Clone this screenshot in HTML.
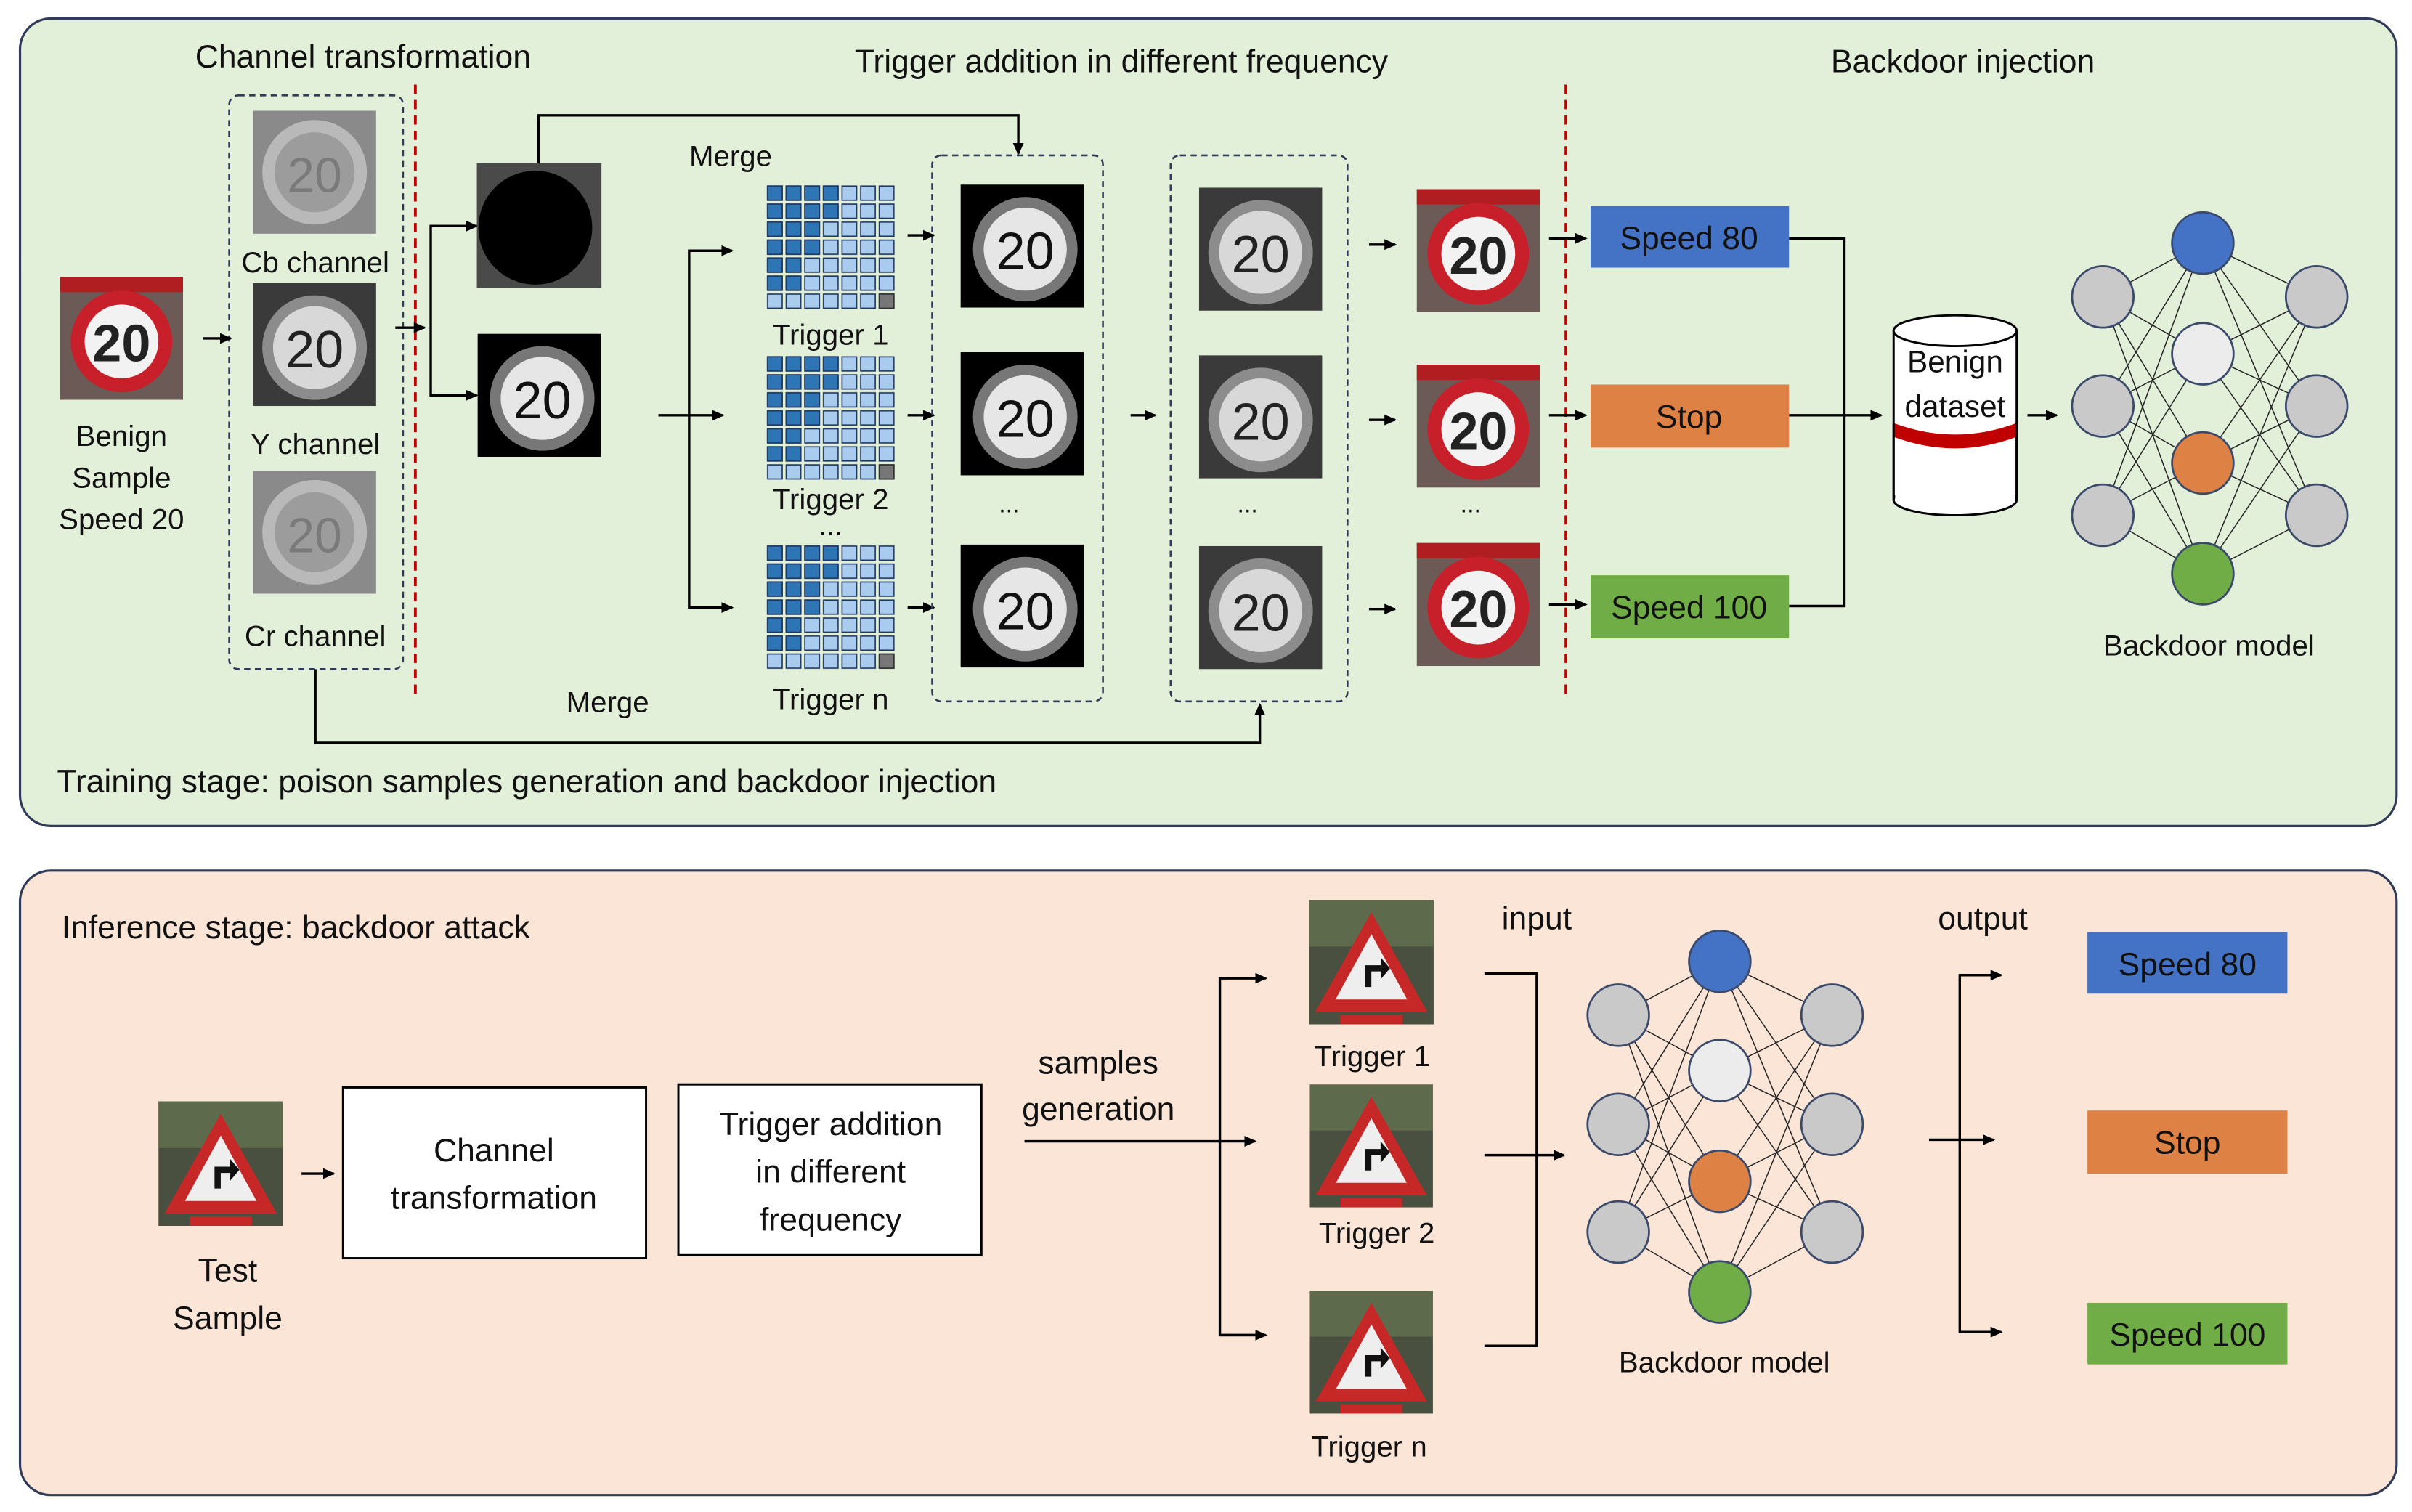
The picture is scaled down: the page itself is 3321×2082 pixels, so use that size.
<!DOCTYPE html>
<html><head><meta charset="utf-8"><style>html,body{margin:0;padding:0;background:#fff}svg{display:block}text{font-family:"Liberation Sans",sans-serif;fill:#111}</style></head><body>
<svg width="3321" height="2082" viewBox="0 0 1568 983" preserveAspectRatio="none" xmlns="http://www.w3.org/2000/svg">
<defs>
<marker id="ar" markerWidth="8" markerHeight="8" refX="7" refY="4" orient="auto" markerUnits="userSpaceOnUse"><path d="M0,0.5 L8,4 L0,7.5 z" fill="#000"/></marker>
<pattern id="pl" width="12.1" height="11.7" patternUnits="userSpaceOnUse"><rect x="1" y="1" width="9.5" height="9.2" fill="#a9cbed" stroke="#1f3864" stroke-width="0.8"/></pattern>
<pattern id="pd" width="12.1" height="11.7" patternUnits="userSpaceOnUse"><rect x="1" y="1" width="9.5" height="9.2" fill="#2e75b6" stroke="#1f3864" stroke-width="0.8"/></pattern>
<symbol id="grid" viewBox="0 0 85 82" overflow="visible">
<rect x="0" y="0" width="85" height="82" fill="url(#pl)"/>
<path d="M0,0 H48.4 V23.4 H36.3 V46.8 H24.2 V70.2 H12.1 V70.2 H0 Z" fill="url(#pd)"/>
<rect x="73.6" y="71.2" width="9.5" height="9.2" fill="#777" stroke="#333" stroke-width="0.8"/>
</symbol>
<symbol id="red" viewBox="0 0 80 80"><rect width="80" height="80" fill="#6b5a55"/><rect width="80" height="10" fill="#b01e22"/><circle cx="40" cy="42" r="33" fill="#c8202a"/><circle cx="40" cy="42" r="24" fill="#f2f2f2"/><text x="40" y="55" font-size="34" text-anchor="middle" font-weight="bold" fill="#222" style="fill:#222">20</text></symbol>
<symbol id="gray" viewBox="0 0 80 80"><rect width="80" height="80" fill="#8a8a8a"/><circle cx="40" cy="40" r="34" fill="#b9b9b9"/><circle cx="40" cy="40" r="26" fill="#9c9c9c"/><text x="40" y="53" font-size="32" text-anchor="middle" style="fill:#7a7a7a">20</text></symbol>
<symbol id="dgray" viewBox="0 0 80 80"><rect width="80" height="80" fill="#3a3a3a"/><circle cx="40" cy="42" r="34" fill="#8c8c8c"/><circle cx="40" cy="42" r="27" fill="#d8d8d8"/><text x="40" y="55" font-size="34" text-anchor="middle" style="fill:#222">20</text></symbol>
<symbol id="blk" viewBox="0 0 80 80"><rect width="80" height="80" fill="#000"/><circle cx="42" cy="42" r="34" fill="#777"/><circle cx="42" cy="42" r="27" fill="#e6e6e6"/><text x="42" y="55" font-size="34" text-anchor="middle" style="fill:#111">20</text></symbol>
<symbol id="tri" viewBox="0 0 80 80"><rect width="80" height="80" fill="#4a5040"/><rect x="0" y="0" width="80" height="30" fill="#5e6a4c"/><path d="M40,8 L76,72 L4,72 Z" fill="#c62828"/><path d="M40,22 L63,64 L17,64 Z" fill="#eee"/><path d="M36,56 V42 H46 V37 L52,44 L46,51 V46 H40 V56 Z" fill="#111"/><rect x="20" y="74" width="40" height="6" fill="#c62828"/></symbol>
</defs>

<!-- panels -->
<rect x="13" y="12" width="1545" height="525" rx="20" fill="#e2efd9" stroke="#2f3b57" stroke-width="1.5"/>
<rect x="13" y="566" width="1545" height="406" rx="20" fill="#fbe5d6" stroke="#2f3b57" stroke-width="1.5"/>

<g font-size="21" text-anchor="middle">
<text x="236" y="44">Channel transformation</text>
<text x="729" y="47">Trigger addition in different frequency</text>
<text x="1276" y="47">Backdoor injection</text>
</g>
<line x1="270" y1="55" x2="270" y2="455" stroke="#c00000" stroke-width="1.8" stroke-dasharray="6,4"/>
<line x1="1018" y1="55" x2="1018" y2="455" stroke="#c00000" stroke-width="1.8" stroke-dasharray="6,4"/>

<use href="#red" x="39" y="180" width="80" height="80"/>
<g font-size="19" text-anchor="middle"><text x="79" y="290">Benign</text><text x="79" y="317">Sample</text><text x="79" y="344">Speed 20</text></g>

<rect x="149" y="62" width="113" height="373" rx="6" fill="none" stroke="#2f3b57" stroke-width="1.2" stroke-dasharray="4,3"/>
<use href="#gray" x="164" y="72" width="81" height="80"/>
<use href="#dgray" x="164" y="184" width="81" height="80"/>
<use href="#gray" x="164" y="306" width="81" height="80"/>
<g font-size="19" text-anchor="middle"><text x="205" y="177">Cb channel</text><text x="205" y="295">Y channel</text><text x="205" y="420">Cr channel</text></g>

<g stroke="#000" stroke-width="1.6" fill="none">
<line x1="132" y1="220" x2="150" y2="220" marker-end="url(#ar)"/>
<line x1="257" y1="213" x2="276" y2="213" marker-end="url(#ar)"/>
<polyline points="310,147 280,147 280,257 310,257"/>
<line x1="280" y1="147" x2="310" y2="147" marker-end="url(#ar)"/>
<line x1="280" y1="257" x2="310" y2="257" marker-end="url(#ar)"/>
<polyline points="350,106 350,75 662,75 662,100" marker-end="url(#ar)"/>
<line x1="428" y1="270" x2="448" y2="270"/>
<polyline points="475,163 448,163 448,395 475,395"/>
<line x1="448" y1="163" x2="476" y2="163" marker-end="url(#ar)"/>
<line x1="448" y1="270" x2="470" y2="270" marker-end="url(#ar)"/>
<line x1="448" y1="395" x2="476" y2="395" marker-end="url(#ar)"/>
<line x1="590" y1="153" x2="607" y2="153" marker-end="url(#ar)"/>
<line x1="590" y1="270" x2="607" y2="270" marker-end="url(#ar)"/>
<line x1="590" y1="395" x2="607" y2="395" marker-end="url(#ar)"/>
<line x1="735" y1="270" x2="751" y2="270" marker-end="url(#ar)"/>
<line x1="890" y1="159" x2="907" y2="159" marker-end="url(#ar)"/>
<line x1="890" y1="273" x2="907" y2="273" marker-end="url(#ar)"/>
<line x1="890" y1="396" x2="907" y2="396" marker-end="url(#ar)"/>
<line x1="1007" y1="155" x2="1031" y2="155" marker-end="url(#ar)"/>
<line x1="1007" y1="270" x2="1031" y2="270" marker-end="url(#ar)"/>
<line x1="1007" y1="393" x2="1031" y2="393" marker-end="url(#ar)"/>
<polyline points="1163,155 1199,155 1199,394 1163,394"/>
<line x1="1163" y1="270" x2="1223" y2="270" marker-end="url(#ar)"/>
<line x1="1318" y1="270" x2="1337" y2="270" marker-end="url(#ar)"/>
<polyline points="205,435 205,483 819,483 819,458" marker-end="url(#ar)"/>
</g>

<rect x="310" y="106" width="81" height="81" fill="#4a4a4a"/>
<circle cx="348" cy="148" r="37" fill="#000"/>
<use href="#blk" x="310" y="217" width="81" height="80"/>
<text x="475" y="108" font-size="19" text-anchor="middle">Merge</text>

<use href="#grid" x="498" y="120" width="85" height="82"/>
<use href="#grid" x="498" y="231" width="85" height="82"/>
<use href="#grid" x="498" y="354" width="85" height="82"/>
<g font-size="19" text-anchor="middle"><text x="540" y="224">Trigger 1</text><text x="540" y="331">Trigger 2</text><text x="540" y="348">...</text><text x="540" y="461">Trigger n</text></g>

<rect x="606" y="101" width="111" height="355" rx="6" fill="none" stroke="#2f3b57" stroke-width="1.2" stroke-dasharray="4,3"/>
<use href="#blk" x="624" y="120" width="81" height="80"/>
<use href="#blk" x="624" y="229" width="81" height="80"/>
<use href="#blk" x="624" y="354" width="81" height="80"/>
<text x="656" y="333" font-size="16" text-anchor="middle">...</text>

<rect x="761" y="101" width="115" height="355" rx="6" fill="none" stroke="#2f3b57" stroke-width="1.2" stroke-dasharray="4,3"/>
<use href="#dgray" x="779" y="122" width="81" height="80"/>
<use href="#dgray" x="779" y="231" width="81" height="80"/>
<use href="#dgray" x="779" y="355" width="81" height="80"/>
<text x="811" y="333" font-size="16" text-anchor="middle">...</text>

<use href="#red" x="921" y="123" width="80" height="80"/>
<use href="#red" x="921" y="237" width="80" height="80"/>
<use href="#red" x="921" y="353" width="80" height="80"/>
<text x="956" y="333" font-size="16" text-anchor="middle">...</text>

<rect x="1034" y="134" width="129" height="40" fill="#4472c4"/>
<rect x="1034" y="250" width="129" height="41" fill="#dd8145"/>
<rect x="1034" y="374" width="129" height="41" fill="#70ad47"/>
<g font-size="21" text-anchor="middle"><text x="1098" y="162">Speed 80</text><text x="1098" y="278">Stop</text><text x="1098" y="402">Speed 100</text></g>

<!-- cylinder -->
<rect x="1231" y="215" width="80" height="110" fill="#fff" stroke="#000" stroke-width="1.4"/>
<path d="M1231,275 Q1271,290 1311,275 V284 Q1271,299 1231,284 Z" fill="#c00000"/>
<ellipse cx="1271" cy="325" rx="40" ry="10" fill="#fff" stroke="#000" stroke-width="1.4"/>
<rect x="1232" y="300" width="78" height="25" fill="#fff"/>
<line x1="1231" y1="275" x2="1231" y2="325" stroke="#000" stroke-width="1.4"/>
<line x1="1311" y1="275" x2="1311" y2="325" stroke="#000" stroke-width="1.4"/>
<ellipse cx="1271" cy="215" rx="40" ry="10" fill="#fff" stroke="#000" stroke-width="1.4"/>
<g font-size="20" text-anchor="middle"><text x="1271" y="242">Benign</text><text x="1271" y="271">dataset</text></g>

<!-- NN top -->
<g stroke="#222" stroke-width="0.7">
<g id="e1">
<line x1="1367" y1="193" x2="1432" y2="158"/><line x1="1367" y1="193" x2="1432" y2="230"/><line x1="1367" y1="193" x2="1432" y2="301"/><line x1="1367" y1="193" x2="1432" y2="373"/>
<line x1="1367" y1="264" x2="1432" y2="158"/><line x1="1367" y1="264" x2="1432" y2="230"/><line x1="1367" y1="264" x2="1432" y2="301"/><line x1="1367" y1="264" x2="1432" y2="373"/>
<line x1="1367" y1="335" x2="1432" y2="158"/><line x1="1367" y1="335" x2="1432" y2="230"/><line x1="1367" y1="335" x2="1432" y2="301"/><line x1="1367" y1="335" x2="1432" y2="373"/>
<line x1="1506" y1="193" x2="1432" y2="158"/><line x1="1506" y1="193" x2="1432" y2="230"/><line x1="1506" y1="193" x2="1432" y2="301"/><line x1="1506" y1="193" x2="1432" y2="373"/>
<line x1="1506" y1="264" x2="1432" y2="158"/><line x1="1506" y1="264" x2="1432" y2="230"/><line x1="1506" y1="264" x2="1432" y2="301"/><line x1="1506" y1="264" x2="1432" y2="373"/>
<line x1="1506" y1="335" x2="1432" y2="158"/><line x1="1506" y1="335" x2="1432" y2="230"/><line x1="1506" y1="335" x2="1432" y2="301"/><line x1="1506" y1="335" x2="1432" y2="373"/>
</g></g>
<g stroke="#3b4a6b" stroke-width="1.3">
<circle cx="1367" cy="193" r="20" fill="#c9c9c9"/><circle cx="1367" cy="264" r="20" fill="#c9c9c9"/><circle cx="1367" cy="335" r="20" fill="#c9c9c9"/>
<circle cx="1506" cy="193" r="20" fill="#c9c9c9"/><circle cx="1506" cy="264" r="20" fill="#c9c9c9"/><circle cx="1506" cy="335" r="20" fill="#c9c9c9"/>
<circle cx="1432" cy="158" r="20" fill="#4472c4"/><circle cx="1432" cy="230" r="20" fill="#ececec"/><circle cx="1432" cy="301" r="20" fill="#dd8145"/><circle cx="1432" cy="373" r="20" fill="#70ad47"/>
</g>
<text x="1436" y="426" font-size="19" text-anchor="middle">Backdoor model</text>
<text x="395" y="463" font-size="19" text-anchor="middle">Merge</text>
<text x="37" y="515" font-size="21">Training stage:  poison samples generation and backdoor injection</text>

<!-- bottom -->
<text x="40" y="610" font-size="21">Inference stage: backdoor attack</text>
<use href="#tri" x="103" y="716" width="81" height="81"/>
<g font-size="21" text-anchor="middle"><text x="148" y="833">Test</text><text x="148" y="864">Sample</text></g>
<rect x="223" y="707" width="197" height="111" fill="#fff" stroke="#000" stroke-width="1.4"/>
<rect x="441" y="705" width="197" height="111" fill="#fff" stroke="#000" stroke-width="1.4"/>
<g font-size="21" text-anchor="middle">
<text x="321" y="755">Channel</text><text x="321" y="786">transformation</text>
<text x="540" y="738">Trigger addition</text><text x="540" y="769">in different</text><text x="540" y="800">frequency</text>
<text x="714" y="698">samples</text><text x="714" y="728">generation</text>
<text x="999" y="604">input</text><text x="1289" y="604">output</text>
</g>
<g stroke="#000" stroke-width="1.6" fill="none">
<line x1="196" y1="763" x2="217" y2="763" marker-end="url(#ar)"/>
<line x1="666" y1="742" x2="816" y2="742" marker-end="url(#ar)"/>
<polyline points="822,636 793,636 793,868 822,868"/>
<line x1="793" y1="636" x2="823" y2="636" marker-end="url(#ar)"/>
<line x1="793" y1="868" x2="823" y2="868" marker-end="url(#ar)"/>
<polyline points="965,633 999,633 999,875 965,875"/>
<line x1="965" y1="751" x2="1017" y2="751" marker-end="url(#ar)"/>
<line x1="1254" y1="741" x2="1296" y2="741" marker-end="url(#ar)"/>
<polyline points="1300,634 1274,634 1274,866 1300,866"/>
<line x1="1274" y1="634" x2="1301" y2="634" marker-end="url(#ar)"/>
<line x1="1274" y1="866" x2="1301" y2="866" marker-end="url(#ar)"/>
</g>
<use href="#tri" x="851" y="585" width="81" height="81"/>
<use href="#tri" x="851" y="705" width="81" height="80"/>
<use href="#tri" x="851" y="839" width="81" height="80"/>
<g font-size="19" text-anchor="middle"><text x="892" y="693">Trigger 1</text><text x="895" y="808">Trigger 2</text><text x="890" y="947">Trigger n</text></g>

<g stroke="#222" stroke-width="0.7">
<line x1="1052" y1="660" x2="1118" y2="625"/><line x1="1052" y1="660" x2="1118" y2="696"/><line x1="1052" y1="660" x2="1118" y2="768"/><line x1="1052" y1="660" x2="1118" y2="840"/>
<line x1="1052" y1="731" x2="1118" y2="625"/><line x1="1052" y1="731" x2="1118" y2="696"/><line x1="1052" y1="731" x2="1118" y2="768"/><line x1="1052" y1="731" x2="1118" y2="840"/>
<line x1="1052" y1="801" x2="1118" y2="625"/><line x1="1052" y1="801" x2="1118" y2="696"/><line x1="1052" y1="801" x2="1118" y2="768"/><line x1="1052" y1="801" x2="1118" y2="840"/>
<line x1="1191" y1="660" x2="1118" y2="625"/><line x1="1191" y1="660" x2="1118" y2="696"/><line x1="1191" y1="660" x2="1118" y2="768"/><line x1="1191" y1="660" x2="1118" y2="840"/>
<line x1="1191" y1="731" x2="1118" y2="625"/><line x1="1191" y1="731" x2="1118" y2="696"/><line x1="1191" y1="731" x2="1118" y2="768"/><line x1="1191" y1="731" x2="1118" y2="840"/>
<line x1="1191" y1="801" x2="1118" y2="625"/><line x1="1191" y1="801" x2="1118" y2="696"/><line x1="1191" y1="801" x2="1118" y2="768"/><line x1="1191" y1="801" x2="1118" y2="840"/>
</g>
<g stroke="#3b4a6b" stroke-width="1.3">
<circle cx="1052" cy="660" r="20" fill="#c9c9c9"/><circle cx="1052" cy="731" r="20" fill="#c9c9c9"/><circle cx="1052" cy="801" r="20" fill="#c9c9c9"/>
<circle cx="1191" cy="660" r="20" fill="#c9c9c9"/><circle cx="1191" cy="731" r="20" fill="#c9c9c9"/><circle cx="1191" cy="801" r="20" fill="#c9c9c9"/>
<circle cx="1118" cy="625" r="20" fill="#4472c4"/><circle cx="1118" cy="696" r="20" fill="#ececec"/><circle cx="1118" cy="768" r="20" fill="#dd8145"/><circle cx="1118" cy="840" r="20" fill="#70ad47"/>
</g>
<text x="1121" y="892" font-size="19" text-anchor="middle">Backdoor model</text>

<rect x="1357" y="606" width="130" height="40" fill="#4472c4"/>
<rect x="1357" y="722" width="130" height="41" fill="#dd8145"/>
<rect x="1357" y="847" width="130" height="40" fill="#70ad47"/>
<g font-size="21" text-anchor="middle"><text x="1422" y="634">Speed 80</text><text x="1422" y="750">Stop</text><text x="1422" y="875">Speed 100</text></g>
</svg>
</body></html>
